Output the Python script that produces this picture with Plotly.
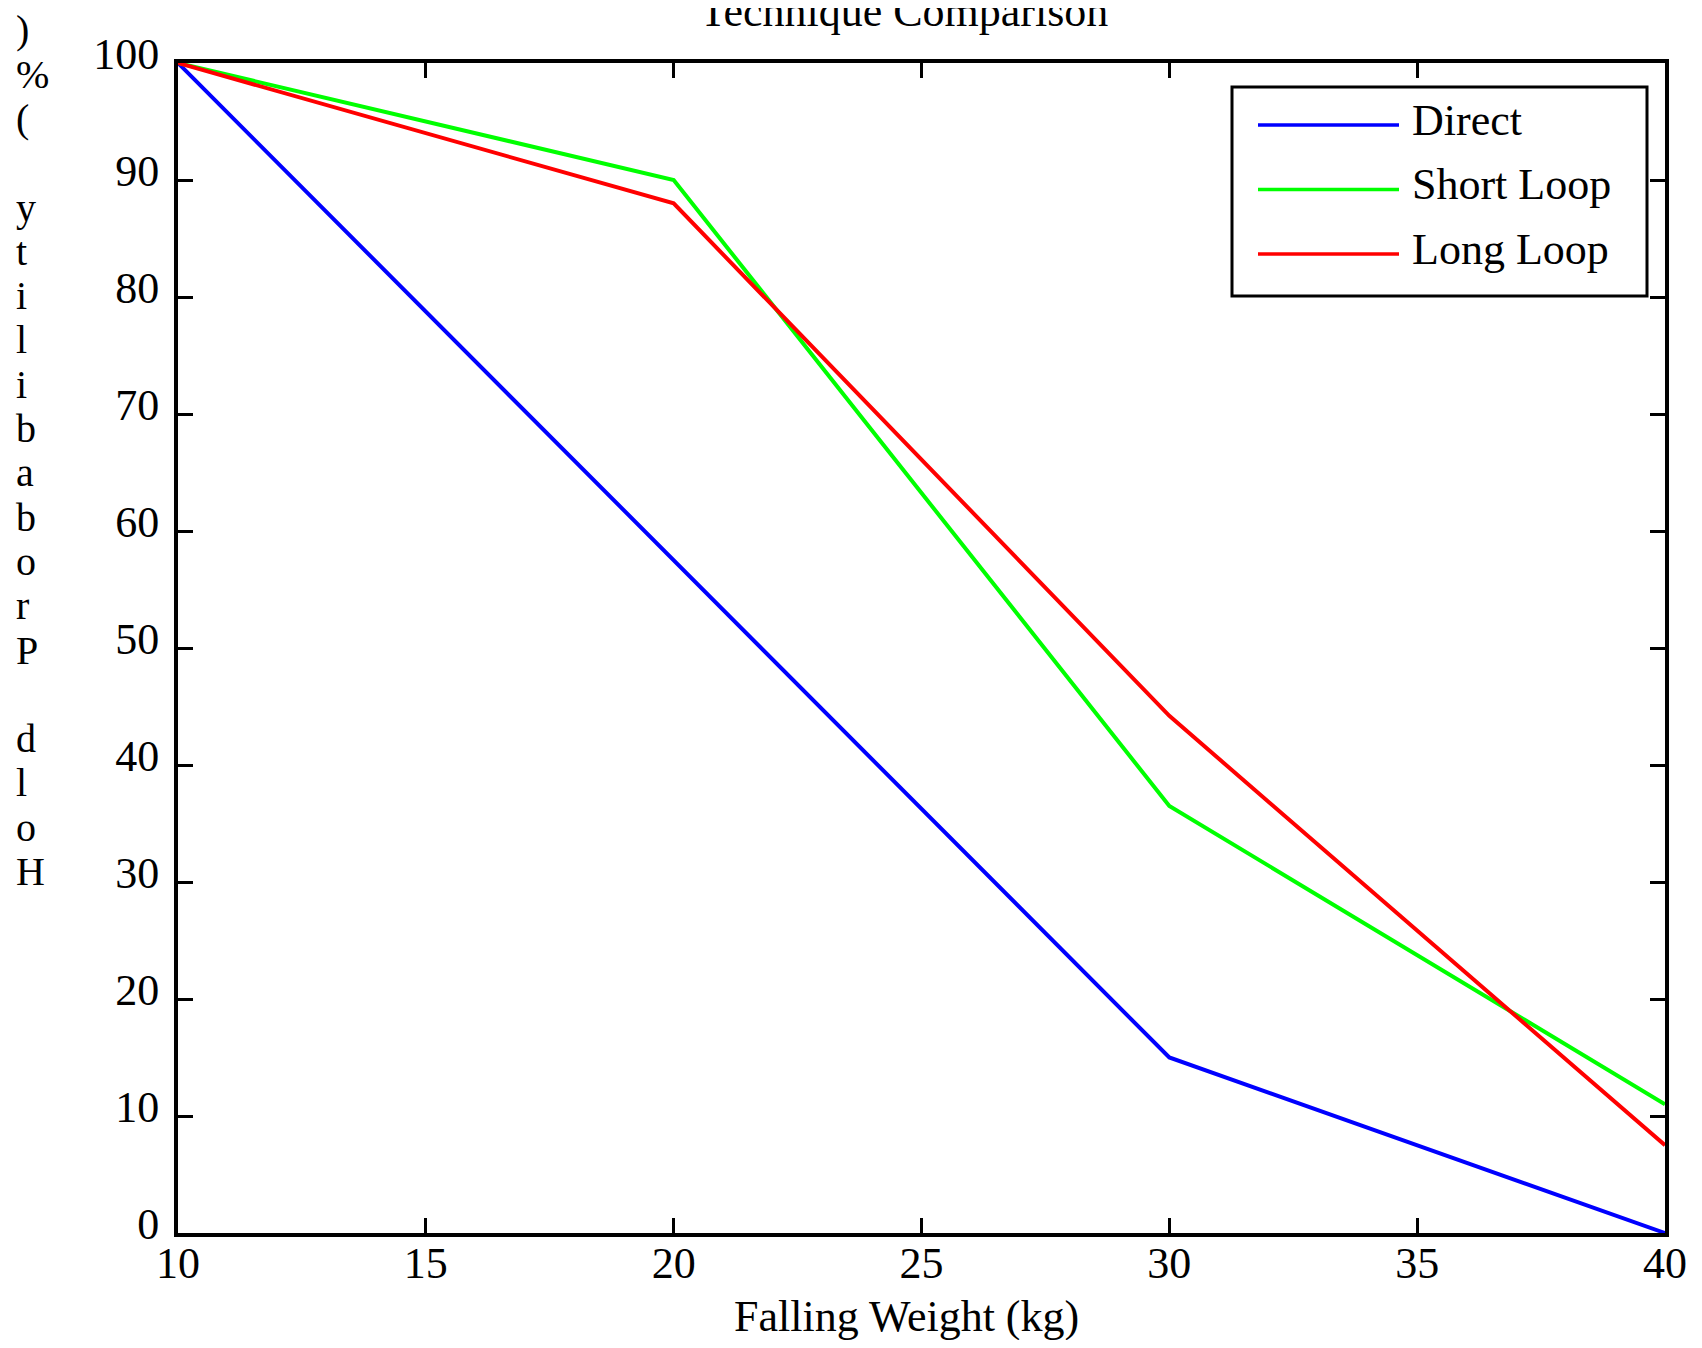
import plotly.graph_objects as go

# ---------------- data ----------------
weights = [10, 20, 30, 40]
direct = [100, 57.5, 15, 0]
short_loop = [100, 90, 36.5, 11]
long_loop = [100, 88, 44.2, 7.5]

series_names = ["Direct", "Short Loop", "Long Loop"]
series_values = [direct, short_loop, long_loop]
series_colors = ["#0000ff", "#00ff00", "#ff0000"]

x_ticks = [10, 15, 20, 25, 30, 35, 40]
y_ticks = [0, 10, 20, 30, 40, 50, 60, 70, 80, 90, 100]

chart_title = "Technique Comparison"
x_title = "Falling Weight (kg)"
y_title = "Hold Probability (%)"

# ---------------- layout geometry ----------------
FONT = "Liberation Serif, Times New Roman, serif"
FS = 44
YL_FS = 40
W, H = 1686, 1332
OFF = 8                      # default page body margin
PL, PR, PT, PB = 178, 1665, 63, 1233   # plot area in page pixels


def px_x(x):
    return (x - PL) / (PR - PL)


def px_y(y):
    return (PB - y) / (PB - PT)


fig = go.Figure()
for name, vals, col in zip(series_names, series_values, series_colors):
    fig.add_trace(go.Scatter(x=weights, y=vals, mode="lines", name=name,
                             line=dict(color=col, width=4), showlegend=False))

axis_common = dict(
    showline=True, linecolor="black", linewidth=4, mirror="ticks",
    ticks="inside", ticklen=15, tickwidth=3, tickcolor="black",
    showgrid=False, zeroline=False,
    tickfont=dict(family=FONT, size=FS, color="black"),
)

fig.update_layout(
    width=W, height=H, autosize=False,
    margin=dict(l=PL - OFF, r=W - (PR - OFF), t=PT - OFF, b=H - (PB - OFF), pad=0),
    paper_bgcolor="white", plot_bgcolor="white",
    font=dict(family=FONT, size=FS, color="black"),
    title=dict(text=chart_title, xref="paper", x=px_x(904), xanchor="center",
               yref="container", y=1 - (26 - OFF) / H, yanchor="bottom",
               font=dict(family=FONT, size=FS, color="black")),
    xaxis=dict(range=[10, 40], tickvals=x_ticks, ticktext=[str(v) for v in x_ticks],
               ticklabelstandoff=-12,
               automargin=False, **axis_common),
    yaxis=dict(range=[0, 100], tickvals=y_ticks, ticktext=[str(v) for v in y_ticks],
               ticklabelstandoff=6, ticklabelshift=-9,
               automargin=False, **axis_common),
    showlegend=False,
)

# ---- x-axis title ----
fig.add_annotation(x=px_x(906), y=px_y(1331 - 0.3375 * FS), xref="paper", yref="paper",
                   text=x_title, showarrow=False, xanchor="center", yanchor="middle",
                   borderpad=0, font=dict(family=FONT, size=FS, color="black"))

# ---- y-axis label, characters stacked (as in the reference) ----
chars = list(reversed(y_title))
n = len(chars)
for k, ch in enumerate(chars):
    if ch == " ":
        continue
    baseline = 885 - (n - 1 - k) * 44.3
    center = baseline - 0.3375 * YL_FS
    fig.add_annotation(x=px_x(15), y=px_y(center), xref="paper", yref="paper",
                       text=ch, showarrow=False, xanchor="left", yanchor="middle",
                       borderpad=0, font=dict(family=FONT, size=YL_FS, color="black"))

# ---- legend box ----
LX0, LX1, LY0, LY1 = 1232, 1647, 87, 296
fig.add_shape(type="rect", xref="paper", yref="paper",
              x0=px_x(LX0), x1=px_x(LX1), y0=px_y(LY1), y1=px_y(LY0),
              line=dict(color="black", width=3), fillcolor="white", layer="above")
rows = [125, 189.5, 254]
for name, col, ry in zip(series_names, series_colors, rows):
    fig.add_shape(type="line", xref="paper", yref="paper",
                  x0=px_x(1258), x1=px_x(1399), y0=px_y(ry), y1=px_y(ry),
                  line=dict(color=col, width=3.5), layer="above")
    fig.add_annotation(x=px_x(1411), y=px_y(ry + 10 - 0.3375 * FS), xref="paper", yref="paper",
                       text=name, showarrow=False, xanchor="left", yanchor="middle",
                       borderpad=0, font=dict(family=FONT, size=FS, color="black"))

fig.write_html("out.html")
